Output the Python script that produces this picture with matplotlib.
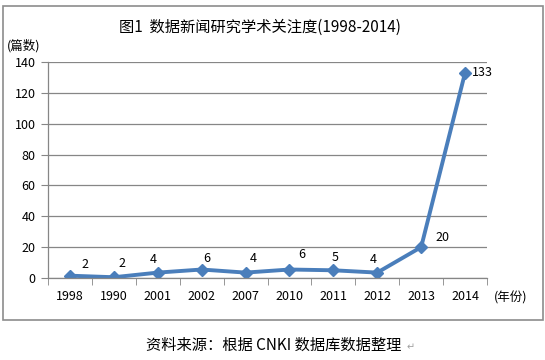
import matplotlib
matplotlib.use('Agg')
import matplotlib.pyplot as plt
from matplotlib.patches import Rectangle
from matplotlib.ticker import FixedLocator

plt.rcParams['font.family'] = ['Noto Sans CJK SC', 'DejaVu Sans']

years = ['1998', '1990', '2001', '2002', '2007', '2010', '2011', '2012', '2013', '2014']
counts = [1.5, 0.5, 3.5, 5.5, 3.5, 5.5, 5, 3.5, 20, 133]
count_labels = ['2', '2', '4', '6', '4', '6', '5', '4', '20', '133']
y_ticks = [0, 20, 40, 60, 80, 100, 120, 140]

title = '图1  数据新闻研究学术关注度(1998-2014)'
source = '资料来源：根据 CNKI 数据库数据整理'

# where each data label sits relative to its point (pixels)
label_offsets = [(15, 11), (8, 14), (-5, 13), (5, 11), (8, 14),
                 (12, 15), (2, 13), (-4, 13), (21, 10), (17, 0)]

W, H = 545, 360
fig = plt.figure(figsize=(W / 100, H / 100), dpi=100)
fig.patch.set_facecolor('white')

# chart frame
fig.patches.append(Rectangle((3 / W, 1 - 320 / H), 540 / W, 314 / H, transform=fig.transFigure,
                             fill=False, edgecolor='#8c8c8c', linewidth=1.2))

ax = fig.add_axes([48 / W, 1 - 278 / H, 439 / W, 216 / H])
x = list(range(len(years)))
ax.plot(x, counts, color='#4a7ebb', linewidth=2.8, marker='D', markersize=6.5,
        markerfacecolor='#4a7ebb', markeredgecolor='#4a7ebb')

for xi, yi, lab, off in zip(x, counts, count_labels, label_offsets):
    ax.annotate(lab, (xi, yi), xytext=off, textcoords='offset pixels',
                ha='center', va='center', fontsize=9)

ax.set_xlim(-0.5, len(years) - 0.5)
ax.set_ylim(0, 140)
ax.set_yticks(y_ticks)
ax.set_yticklabels([str(v) for v in y_ticks], fontsize=9)
ax.set_xticks(x)
ax.set_xticklabels(years, fontsize=9)
ax.xaxis.set_minor_locator(FixedLocator([i - 0.5 for i in range(len(years) + 1)]))
ax.tick_params(axis='x', which='major', length=0, pad=9)
ax.tick_params(axis='x', which='minor', length=5, color='#868686')
ax.tick_params(axis='y', length=5, color='#868686', pad=4)
ax.grid(True, axis='y', color='#868686', linewidth=0.9)
ax.set_axisbelow(True)
for s in ['top', 'right']:
    ax.spines[s].set_visible(False)
for s in ['left', 'bottom']:
    ax.spines[s].set_color('#868686')
    ax.spines[s].set_linewidth(0.9)

fig.text(260 / W, 1 - 27 / H, title, ha='center', va='center', fontsize=11)
fig.text(24 / W, 1 - 46 / H, '(篇数)', ha='center', va='center', fontsize=9)
fig.text(511 / W, 1 - 298 / H, '(年份)', ha='center', va='center', fontsize=9)
fig.text(274 / W, 1 - 345 / H, source, ha='center', va='center', fontsize=11)
fig.text(407 / W, 1 - 347 / H, '↵', ha='left', va='center', fontsize=7, color='#a0a0a0')

fig.savefig('out.png', dpi=100)
